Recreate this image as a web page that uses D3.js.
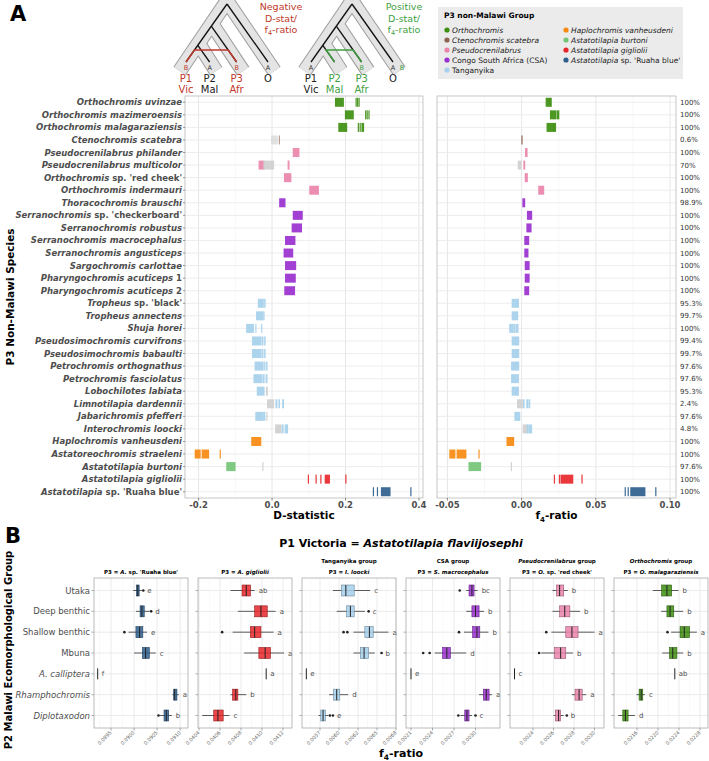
<!DOCTYPE html>
<html>
<head>
<meta charset="utf-8">
<script src="https://cdn.jsdelivr.net/npm/d3@7"></script>
<style>
  body { margin: 0; background: #fff; }
  svg { font-family: "DejaVu Sans", sans-serif; display: block; }
</style>
</head>
<body>
<div id="chart"></div>
<script>
// ---------- panel A data ----------
var groupNames = ["Orthochromis", "Ctenochromis scatebra", "Pseudocrenilabrus", "Congo South Africa (CSA)", "Tanganyika",
                  "Haplochromis vanheusdeni", "Astatotilapia burtoni", "Astatotilapia gigliolii", "Astatotilapia sp. 'Ruaha blue'"];
var groupColors = ["#3e8e10", "#8c6450", "#ea84aa", "#9a30cf", "#a6d0ec", "#f7890f", "#74c476", "#e8262a", "#2e5f8e"];

var species = [
  "Orthochromis uvinzae", "Orthochromis mazimeroensis", "Orthochromis malagaraziensis", "Ctenochromis scatebra",
  "Pseudocrenilabrus philander", "Pseudocrenilabrus multicolor", "Orthochromis sp. 'red cheek'", "Orthochromis indermauri",
  "Thoracochromis brauschi", "Serranochromis sp. 'checkerboard'", "Serranochromis robustus", "Serranochromis macrocephalus",
  "Serranochromis angusticeps", "Sargochromis carlottae", "Pharyngochromis acuticeps 1", "Pharyngochromis acuticeps 2",
  "Tropheus sp. 'black'", "Tropheus annectens", "Shuja horei", "Pseudosimochromis curvifrons", "Pseudosimochromis babaulti",
  "Petrochromis orthognathus", "Petrochromis fasciolatus", "Lobochilotes labiata", "Limnotilapia dardennii",
  "Jabarichromis pfefferi", "Interochromis loocki", "Haplochromis vanheusdeni", "Astatoreochromis straeleni",
  "Astatotilapia burtoni", "Astatotilapia gigliolii", "Astatotilapia sp. 'Ruaha blue'"
];
var speciesGroup = [0,0,0,1, 2,2,2,2, 3,3,3,3,3,3,3,3, 4,4,4,4,4,4,4,4,4,4,4, 5,5,6,7,8];

// runs of replicate values: [low, high, significant(1) / not (0)]
var dRuns = [
  [[0.173,0.194,1],[0.229,0.229,1],[0.233,0.233,1],[0.237,0.237,1]],
  [[0.200,0.221,1],[0.255,0.255,1],[0.259,0.259,1],[0.264,0.264,1]],
  [[0.182,0.203,1],[0.235,0.235,1],[0.240,0.240,1],[0.245,0.249,1]],
  [[-0.001,0.014,0],[0.020,0.020,1]],
  [[0.058,0.073,1]],
  [[-0.035,-0.022,1],[-0.022,0.004,0],[0.044,0.044,1],[0.046,0.046,1]],
  [[0.034,0.051,1]],
  [[0.103,0.126,1]],
  [[0.021,0.035,1]],
  [[0.058,0.082,1]],
  [[0.055,0.080,1]],
  [[0.037,0.062,1]],
  [[0.033,0.056,1]],
  [[0.037,0.064,1]],
  [[0.037,0.063,1]],
  [[0.035,0.061,1]],
  [[-0.037,-0.024,1],[-0.020,-0.019,1]],
  [[-0.042,-0.025,1],[-0.022,-0.022,1]],
  [[-0.069,-0.051,1],[-0.044,-0.044,1],[-0.028,-0.028,1]],
  [[-0.053,-0.030,1],[-0.026,-0.025,1],[-0.020,-0.019,1]],
  [[-0.053,-0.030,1],[-0.026,-0.025,1],[-0.020,-0.019,1]],
  [[-0.046,-0.026,1],[-0.022,-0.021,1],[-0.016,-0.014,1]],
  [[-0.049,-0.028,1],[-0.024,-0.022,1],[-0.016,-0.014,1]],
  [[-0.040,-0.022,1],[-0.015,-0.013,0]],
  [[-0.012,0.004,0],[0.011,0.013,1],[0.019,0.020,1],[0.029,0.031,1]],
  [[-0.044,-0.024,1],[-0.021,-0.020,1],[-0.014,-0.014,0]],
  [[0.010,0.024,0],[0.028,0.030,1],[0.036,0.042,1]],
  [[-0.055,-0.031,1]],
  [[-0.209,-0.196,1],[-0.190,-0.173,1],[-0.141,-0.141,1]],
  [[-0.123,-0.101,1],[-0.025,-0.025,0]],
  [[0.099,0.099,1],[0.120,0.120,1],[0.133,0.133,1],[0.145,0.156,1],[0.201,0.201,1]],
  [[0.276,0.276,1],[0.287,0.287,1],[0.298,0.321,1],[0.378,0.378,1]]
];
var fRuns = [
  [[0.0166,0.0190,1],[0.0195,0.0199,1]],
  [[0.0195,0.0230,1],[0.0240,0.0250,1]],
  [[0.0172,0.0215,1],[0.0220,0.0228,1]],
  [[0.0000,0.0005,1]],
  [[0.0027,0.0036,1]],
  [[-0.0022,-0.0004,0],[0.0016,0.0020,1]],
  [[0.0025,0.0038,1]],
  [[0.0116,0.0148,1]],
  [[0.0009,0.0020,1]],
  [[0.0040,0.0067,1]],
  [[0.0036,0.0063,1]],
  [[0.0022,0.0047,1]],
  [[0.0022,0.0042,1]],
  [[0.0025,0.0050,1]],
  [[0.0025,0.0050,1]],
  [[0.0022,0.0047,1]],
  [[-0.0063,-0.0030,1],[-0.0026,-0.0022,1]],
  [[-0.0063,-0.0027,1]],
  [[-0.0080,-0.0060,1],[-0.0052,-0.0045,1],[-0.0035,-0.0025,1]],
  [[-0.0063,-0.0040,1],[-0.0035,-0.0020,1]],
  [[-0.0063,-0.0040,1],[-0.0035,-0.0020,1]],
  [[-0.0067,-0.0040,1],[-0.0034,-0.0020,1]],
  [[-0.0067,-0.0040,1],[-0.0033,-0.0022,1]],
  [[-0.0063,-0.0035,1],[-0.0030,-0.0022,1]],
  [[-0.0027,0.0004,0],[0.0013,0.0016,1],[0.0035,0.0040,1],[0.0050,0.0054,1]],
  [[-0.0045,-0.0013,1]],
  [[0.0011,0.0036,0],[0.0040,0.0043,1],[0.0050,0.0067,1]],
  [[-0.0098,-0.0054,1]],
  [[-0.0483,-0.0450,1],[-0.0434,-0.0376,1],[-0.0287,-0.0287,1]],
  [[-0.0354,-0.0277,1],[-0.0069,-0.0069,0]],
  [[0.0221,0.0221,1],[0.0255,0.0255,1],[0.0266,0.0344,1],[0.0407,0.0407,1]],
  [[0.0698,0.0698,1],[0.0718,0.0718,1],[0.0736,0.0830,1],[0.0904,0.0904,1]]
];
var pctLabels = ["100%","100%","100%","0.6%","100%","70%","100%","100%","98.9%","100%","100%","100%","100%","100%","100%","100%",
                 "95.3%","99.7%","100%","99.4%","99.7%","97.6%","97.6%","95.3%","2.4%","97.6%","4.8%","100%","100%","97.6%","100%","100%"];
var dTicks = [-0.2, 0, 0.2, 0.4], dTickLabels = ["-0.2", "0.0", "0.2", "0.4"];
var fTicks = [-0.05, 0, 0.05, 0.1], fTickLabels = ["-0.05", "0.00", "0.05", "0.10"];

// ---------- panel B data ----------
var ecoGroups = ["Utaka", "Deep benthic", "Shallow benthic", "Mbuna", "A. calliptera", "Rhamphochromis", "Diplotaxodon"];
var facetTop = ["", "", "Tanganyika", "CSA", "Pseudocrenilabrus", "Orthochromis"];
var facetP3 = ["A. sp. 'Ruaha blue'", "A. gigliolii", "I. loocki", "S. macrocephalus", "O. sp. 'red cheek'", "O. malagaraziensis"];
var facetColor = [8, 7, 4, 3, 2, 0];
var facetXLim = [[0.08913, 0.09117], [0.04039, 0.041286], [0.005513, 0.00675], [0.00203, 0.003342], [0.002176, 0.003093], [0.021162, 0.022952]];
var facetTicks = [
  [0.0895, 0.0900, 0.0905, 0.0910],
  [0.0404, 0.0406, 0.0408, 0.0410, 0.0412],
  [0.00575, 0.00600, 0.00625, 0.00650, 0.00675],
  [0.0021, 0.0024, 0.0027, 0.0030],
  [0.0024, 0.0026, 0.0028, 0.0030],
  [0.0216, 0.0220, 0.0224, 0.0228]
];
var facetTickLabels = [
  ["0.0895", "0.0900", "0.0905", "0.0910"],
  ["0.0404", "0.0406", "0.0408", "0.0410", "0.0412"],
  ["0.0057", "0.0060", "0.0062", "0.0065", "0.0068"],
  ["0.0021", "0.0024", "0.0027", "0.0030"],
  ["0.0024", "0.0026", "0.0028", "0.0030"],
  ["0.0216", "0.0220", "0.0224", "0.0228"]
];
// [whisker low, Q1, median, Q3, whisker high, outliers]
var boxStats = [
  [[0.08998,0.09005,0.09008,0.09011,0.09017,[0.09020]],
   [0.09004,0.09013,0.09017,0.09022,0.09034,[0.09037]],
   [0.08988,0.09004,0.09012,0.09019,0.09028,[0.08979]],
   [0.09000,0.09018,0.09025,0.09033,0.09047,[]],
   [0.08921,0.08921,0.08921,0.08921,0.08921,[]],
   [0.09083,0.09086,0.09088,0.09093,0.09097,[]],
   [0.09056,0.09065,0.09070,0.09075,0.09082,[0.09053]]],
  [[0.04070,0.04081,0.04085,0.04089,0.04093,[]],
   [0.04077,0.04093,0.04099,0.04105,0.04113,[]],
   [0.04072,0.04089,0.04093,0.04099,0.04111,[0.04062]],
   [0.04083,0.04097,0.04103,0.04108,0.04121,[]],
   [0.04104,0.04104,0.04104,0.04104,0.04104,[]],
   [0.04070,0.04072,0.04075,0.04077,0.04085,[]],
   [0.04043,0.04054,0.04058,0.04063,0.04069,[]]],
  [[0.00592,0.00603,0.00609,0.00620,0.00641,[]],
   [0.00597,0.00610,0.00615,0.00620,0.00634,[0.00639]],
   [0.00619,0.00634,0.00640,0.00645,0.00665,[0.00606,0.00611]],
   [0.00619,0.00628,0.00633,0.00639,0.00647,[0.00656]],
   [0.00557,0.00557,0.00557,0.00557,0.00557,[]],
   [0.00587,0.00593,0.00597,0.00601,0.00612,[]],
   [0.00573,0.00576,0.00579,0.00582,0.00586,[0.00588,0.00592]]],
  [[0.00287,0.00291,0.00295,0.00298,0.00303,[0.00278]],
   [0.00287,0.00295,0.00300,0.00305,0.00312,[]],
   [0.00284,0.00296,0.00302,0.00306,0.00318,[0.00277]],
   [0.00243,0.00254,0.00260,0.00265,0.00287,[0.00227,0.00236]],
   [0.00210,0.00210,0.00210,0.00210,0.00210,[]],
   [0.00305,0.00311,0.00315,0.00319,0.00323,[]],
   [0.00279,0.00285,0.00288,0.00291,0.00295,[0.00276,0.00300]]],
  [[0.00259,0.00263,0.00266,0.00270,0.00274,[]],
   [0.00259,0.00266,0.00271,0.00276,0.00286,[]],
   [0.00258,0.00272,0.00278,0.00284,0.00300,[0.00253]],
   [0.00248,0.00261,0.00267,0.00272,0.00279,[0.00246]],
   [0.00222,0.00222,0.00222,0.00222,0.00222,[]],
   [0.00278,0.00281,0.00285,0.00288,0.00292,[]],
   [0.00260,0.00262,0.00265,0.00267,0.00270,[0.00273]]],
  [[0.02190,0.02207,0.02217,0.02226,0.02239,[]],
   [0.02206,0.02217,0.02223,0.02230,0.02248,[]],
   [0.02225,0.02242,0.02250,0.02260,0.02274,[0.02218]],
   [0.02208,0.02222,0.02228,0.02236,0.02248,[]],
   [0.02232,0.02232,0.02232,0.02232,0.02232,[]],
   [0.02159,0.02164,0.02168,0.02171,0.02175,[]],
   [0.02124,0.02133,0.02138,0.02143,0.02156,[]]]
];
var sigLetters = [
  ["e","d","e","c","f","a","b"],
  ["ab","a","a","a","a","b","c"],
  ["c","c","a","b","e","d","e"],
  ["bc","b","b","d","e","a","c"],
  ["b","b","a","b","c","a","b"],
  ["b","b","a","b","ab","c","d"]
];

// ---------- helpers ----------
var svg = d3.select("#chart").append("svg").attr("width", 709).attr("height", 761);
var plainWords = ["Congo South Africa (CSA)", "Tanganyika", "CSA"];

// split a species name into [text, italic] parts
function nameParts(name) {
  if (plainWords.indexOf(name) >= 0) return [[name, false]];
  var i = name.indexOf(" sp. ");
  if (i >= 0) return [[name.slice(0, i), true], [name.slice(i), false]];
  var m = name.match(/^(.*)( \d)$/);
  if (m) return [[m[1], true], [m[2], false]];
  return [[name, true]];
}
function addParts(t, parts) {
  parts.forEach(function (p) {
    t.append("tspan").text(p[0]).style("font-style", p[1] ? "italic" : "normal");
  });
}
// "f4-ratio" with subscript 4
function f4(t, sub, shift) {
  t.append("tspan").text("f");
  t.append("tspan").text("4").attr("font-size", sub).attr("dy", shift);
  t.append("tspan").text("-ratio").attr("dy", -shift);
}

// ---------- panel A ----------
var yA = d3.scalePoint().domain(species).range([96, 498]).padding(0.5);
var xD = d3.scaleLinear().domain([-0.237, 0.411]).range([185, 423]);
var xF = d3.scaleLinear().domain([-0.057, 0.104]).range([437, 676]);

function panelA(xs, ticks, tickLabels, runs, title) {
  var g = svg.append("g");
  var step = ticks[1] - ticks[0];
  var minors = ticks.map(function (t) { return t + step / 2; }).concat([ticks[0] - step / 2])
    .filter(function (v) { return v > xs.domain()[0] && v < xs.domain()[1]; });
  g.selectAll(".mn").data(minors).enter().append("line")
    .attr("x1", xs).attr("x2", xs).attr("y1", 96).attr("y2", 498)
    .attr("stroke", "#f2f2f2").attr("stroke-width", 0.6);
  g.selectAll(".mj").data(ticks).enter().append("line")
    .attr("x1", xs).attr("x2", xs).attr("y1", 96).attr("y2", 498)
    .attr("stroke", "#e3e3e3").attr("stroke-width", 0.9);
  g.selectAll(".hz").data(species).enter().append("line")
    .attr("x1", xs.range()[0]).attr("x2", xs.range()[1])
    .attr("y1", function (d) { return yA(d); }).attr("y2", function (d) { return yA(d); })
    .attr("stroke", "#ebebeb").attr("stroke-width", 0.9);

  var flat = [];
  runs.forEach(function (rs, i) {
    rs.forEach(function (r) { flat.push({ sp: species[i], g: speciesGroup[i], lo: r[0], hi: r[1], sig: r[2] }); });
  });
  g.selectAll(".run").data(flat).enter().append("rect")
    .attr("x", function (d) { return xs(d.lo) - 0.6; })
    .attr("width", function (d) { return Math.max(xs(d.hi) - xs(d.lo), 0) + 1.2; })
    .attr("y", function (d) { return yA(d.sp) - 4.5; })
    .attr("height", 9)
    .attr("fill", function (d) { return d.sig ? groupColors[d.g] : "#cfcfcf"; })
    .attr("opacity", function (d) { return d.g === 1 ? 0.6 : 0.92; });

  g.append("rect").attr("x", xs.range()[0]).attr("y", 96)
    .attr("width", xs.range()[1] - xs.range()[0]).attr("height", 402)
    .attr("fill", "none").attr("stroke", "#b8b8b8").attr("stroke-width", 0.8);

  g.selectAll(".tk").data(ticks).enter().append("line")
    .attr("x1", xs).attr("x2", xs).attr("y1", 498).attr("y2", 500.5)
    .attr("stroke", "#555").attr("stroke-width", 0.7);
  g.selectAll(".tl").data(ticks).enter().append("text")
    .attr("x", xs).attr("y", 508).attr("text-anchor", "middle")
    .attr("font-size", 8.5).attr("font-weight", "bold").attr("fill", "#4d4d4d")
    .text(function (d, i) { return tickLabels[i]; });

  var t = g.append("text").attr("x", (xs.range()[0] + xs.range()[1]) / 2).attr("y", 519)
    .attr("text-anchor", "middle").attr("font-size", 10.5).attr("font-weight", "bold");
  if (title === "f4") f4(t, 7, 2.5); else t.text(title);
  return g;
}
panelA(xD, dTicks, dTickLabels, dRuns, "D-statistic");
panelA(xF, fTicks, fTickLabels, fRuns, "f4");

// species labels
var sl = svg.append("g").selectAll("text").data(species).enter().append("text")
  .attr("x", 182).attr("y", function (d) { return yA(d) + 3; })
  .attr("text-anchor", "end").attr("font-size", 8.5).attr("font-weight", "bold").attr("fill", "#4d4d4d");
sl.each(function (d) { addParts(d3.select(this), nameParts(d)); });
svg.append("g").selectAll("line").data(species).enter().append("line")
  .attr("x1", 183).attr("x2", 185).attr("y1", function (d) { return yA(d); }).attr("y2", function (d) { return yA(d); })
  .attr("stroke", "#555").attr("stroke-width", 0.6);

// percentage labels
svg.append("g").selectAll("text").data(species).enter().append("text")
  .attr("x", 680).attr("y", function (d) { return yA(d) + 2.5; })
  .attr("font-size", 7).attr("fill", "#333")
  .text(function (d, i) { return pctLabels[i]; });

svg.append("text").attr("transform", "translate(14,297) rotate(-90)").attr("text-anchor", "middle")
  .attr("font-size", 10.5).attr("font-weight", "bold").text("P3 Non-Malawi Species");

svg.append("text").attr("x", 10).attr("y", 21).attr("font-size", 21).attr("font-weight", "bold").text("A");

// ---------- tree schematics ----------
function drawTree(ax, mainCol, tipLetters, labCols, migLeft, migRight, extraB) {
  var g = svg.append("g").attr("transform", "translate(" + ax + ",0)");
  var k = 0.707, top = 4, tipY = 62, endY = 71;
  function xl(y) { return -k * (y - top); }
  var nA = 26.2, nB = 45.3;
  var branches = [
    [0, top, xl(tipY), tipY],
    [0, top, k * (tipY - top), tipY],
    [xl(nA), nA, xl(nA) + k * (tipY - nA), tipY],
    [xl(nB), nB, xl(nB) + k * (tipY - nB), tipY]
  ];
  function ext(b) {
    var s = (endY - b[1]) / (b[3] - b[1]);
    return [b[0], b[1] - 3, b[0] + (b[2] - b[0]) * s, endY];
  }
  var tubes = branches.map(ext);
  [["#9d9d9d", 15], ["#e4e4e4", 13]].forEach(function (st) {
    g.selectAll(null).data(tubes).enter().append("line")
      .attr("x1", function (d) { return d[0]; }).attr("y1", function (d) { return d[1]; })
      .attr("x2", function (d) { return d[2]; }).attr("y2", function (d) { return d[3]; })
      .attr("stroke", st[0]).attr("stroke-width", st[1]).attr("stroke-linecap", "butt");
  });
  g.selectAll(null).data(branches).enter().append("line")
    .attr("x1", function (d) { return d[0]; }).attr("y1", function (d) { return d[1]; })
    .attr("x2", function (d) { return d[2]; }).attr("y2", function (d) { return d[3]; })
    .attr("stroke", "#111").attr("stroke-width", 1.3);
  // introgression: coloured tips of the two lineages joined at y = 50
  var mY = 50;
  var bx = [xl(mY), xl(nB) + k * (mY - nB), xl(nA) + k * (mY - nA)];
  var tips = [xl(tipY), xl(nB) + k * (tipY - nB), xl(nA) + k * (tipY - nA), k * (tipY - top)];
  g.append("path").attr("fill", "none").attr("stroke", mainCol).attr("stroke-width", 1.4)
    .attr("d", "M" + tips[migLeft] + "," + tipY + "L" + bx[migLeft] + "," + mY + "L" + bx[migRight] + "," + mY +
               "L" + tips[migRight] + "," + tipY);
  var labs = ["P1", "P2", "P3", "O"], regs = ["Vic", "Mal", "Afr", ""];
  tips.forEach(function (tx, i) {
    g.append("text").attr("x", tx).attr("y", 70).attr("text-anchor", "middle").attr("font-size", 6.5)
      .attr("fill", tipLetters[i][1]).text(tipLetters[i][0]);
    g.append("text").attr("x", tx).attr("y", 82).attr("text-anchor", "middle").attr("font-size", 10)
      .attr("fill", labCols[i]).text(labs[i]);
    g.append("text").attr("x", tx).attr("y", 93).attr("text-anchor", "middle").attr("font-size", 10)
      .attr("fill", labCols[i]).text(regs[i]);
  });
  if (extraB) g.append("text").attr("x", tips[3] + 9).attr("y", 70).attr("text-anchor", "middle")
    .attr("font-size", 6.5).attr("fill", mainCol).text("B");
  return g;
}
var negCol = "#c0392b", posCol = "#3f9f3f";
drawTree(227, negCol, [["B", negCol], ["A", "#333"], ["B", negCol], ["A", "#333"]],
         [negCol, "#222", negCol, "#222"], 0, 2, false);
drawTree(352, posCol, [["A", "#333"], ["", "#333"], ["B", posCol], ["A", "#333"]],
         ["#222", posCol, posCol, "#222"], 1, 2, true);

function note(cx, col, first) {
  var g = svg.append("g").attr("fill", col).attr("font-size", 9.5).attr("text-anchor", "middle");
  g.append("text").attr("x", cx).attr("y", 10).text(first);
  g.append("text").attr("x", cx).attr("y", 21.5).text("D-stat/");
  f4(g.append("text").attr("x", cx).attr("y", 33), 6.5, 2);
}
note(281, negCol, "Negative");
note(404, posCol, "Positive");

// legend
var lg = svg.append("g");
lg.append("rect").attr("x", 438).attr("y", 7).attr("width", 245).attr("height", 72).attr("fill", "#ebebeb");
lg.append("text").attr("x", 444).attr("y", 18).attr("font-size", 7.5).attr("font-weight", "bold").text("P3 non-Malawi Group");
var li = lg.selectAll(".li").data(groupNames).enter().append("g")
  .attr("transform", function (d, i) {
    var col = i < 5 ? 0 : 1, row = i < 5 ? i : i - 5;
    return "translate(" + (447 + col * 119) + "," + (30 + row * 10) + ")";
  });
li.append("circle").attr("r", 2.6).attr("fill", function (d, i) { return groupColors[i]; });
li.append("text").attr("x", 5).attr("y", 2.7).attr("font-size", 7.5).attr("fill", "#222")
  .each(function (d) { addParts(d3.select(this), nameParts(d)); });

// ---------- panel B ----------
svg.append("text").attr("x", 5).attr("y", 543).attr("font-size", 21).attr("font-weight", "bold").text("B");
var bt = svg.append("text").attr("x", 401).attr("y", 547).attr("text-anchor", "middle")
  .attr("font-size", 11).attr("font-weight", "bold");
bt.append("tspan").text("P1 Victoria = ");
bt.append("tspan").text("Astatotilapia flaviijosephi").style("font-style", "italic");

svg.append("text").attr("transform", "translate(12,650) rotate(-90)").attr("text-anchor", "middle")
  .attr("font-size", 10).attr("font-weight", "bold").text("P2 Malawi Ecomorphological Group");

var yB = d3.scalePoint().domain(ecoGroups).range([578, 728]).padding(0.6);
svg.append("g").selectAll("text").data(ecoGroups).enter().append("text")
  .attr("x", 90).attr("y", function (d) { return yB(d) + 3; }).attr("text-anchor", "end")
  .attr("font-size", 8.5).attr("fill", "#4d4d4d")
  .style("font-style", function (d, i) { return i >= 4 ? "italic" : "normal"; })
  .text(function (d) { return d; });

facetP3.forEach(function (p3, fi) {
  var x0 = 94 + fi * 104, x1 = x0 + 94;
  var xs = d3.scaleLinear().domain(facetXLim[fi]).range([x0, x1]);
  var g = svg.append("g");
  var ticks = facetTicks[fi], step = ticks[1] - ticks[0];
  var minors = ticks.map(function (t) { return t + step / 2; }).concat([ticks[0] - step / 2])
    .filter(function (v) { return v > facetXLim[fi][0] && v < facetXLim[fi][1]; });
  g.append("rect").attr("x", x0).attr("y", 578).attr("width", 94).attr("height", 150).attr("fill", "#fff");
  g.selectAll(".mn").data(minors).enter().append("line")
    .attr("x1", xs).attr("x2", xs).attr("y1", 578).attr("y2", 728).attr("stroke", "#f3f3f3").attr("stroke-width", 0.5);
  g.selectAll(".mj").data(ticks).enter().append("line")
    .attr("x1", xs).attr("x2", xs).attr("y1", 578).attr("y2", 728).attr("stroke", "#e6e6e6").attr("stroke-width", 0.8);
  g.selectAll(".hz").data(ecoGroups).enter().append("line")
    .attr("x1", x0).attr("x2", x1).attr("y1", function (d) { return yB(d); }).attr("y2", function (d) { return yB(d); })
    .attr("stroke", "#e6e6e6").attr("stroke-width", 0.8);
  // y ticks
  g.selectAll(".yt").data(ecoGroups).enter().append("line")
    .attr("x1", x0 - 2.5).attr("x2", x0).attr("y1", function (d) { return yB(d); }).attr("y2", function (d) { return yB(d); })
    .attr("stroke", "#777").attr("stroke-width", 0.6);

  var col = groupColors[facetColor[fi]];
  var stats = boxStats[fi].map(function (s, i) { return { eco: ecoGroups[i], s: s, letter: sigLetters[fi][i] }; });
  var bx = g.selectAll(".bx").data(stats).enter().append("g");
  bx.append("line")
    .attr("x1", function (d) { return xs(d.s[0]); }).attr("x2", function (d) { return xs(d.s[4]); })
    .attr("y1", function (d) { return yB(d.eco); }).attr("y2", function (d) { return yB(d.eco); })
    .attr("stroke", "#333").attr("stroke-width", 0.8);
  bx.filter(function (d) { return d.s[3] > d.s[1]; }).append("rect")
    .attr("x", function (d) { return xs(d.s[1]); }).attr("width", function (d) { return xs(d.s[3]) - xs(d.s[1]); })
    .attr("y", function (d) { return yB(d.eco) - 5.5; }).attr("height", 11)
    .attr("fill", col).attr("fill-opacity", 0.85)
    .attr("stroke", d3.color(col).darker(1.2)).attr("stroke-width", 0.6);
  bx.append("line")
    .attr("x1", function (d) { return xs(d.s[2]); }).attr("x2", function (d) { return xs(d.s[2]); })
    .attr("y1", function (d) { return yB(d.eco) - 5.5; }).attr("y2", function (d) { return yB(d.eco) + 5.5; })
    .attr("stroke", "#222").attr("stroke-width", 1);
  bx.each(function (d) {
    var sel = d3.select(this);
    d.s[5].forEach(function (o) {
      sel.append("circle").attr("cx", xs(o)).attr("cy", yB(d.eco)).attr("r", 1.3).attr("fill", "#222");
    });
  });
  bx.append("text")
    .attr("x", function (d) { return xs(d3.max([d.s[4]].concat(d.s[5]))) + 4; })
    .attr("y", function (d) { return yB(d.eco) + 2.5; })
    .attr("font-size", 7).attr("fill", "#4d4d4d").text(function (d) { return d.letter; });

  g.append("rect").attr("x", x0).attr("y", 578).attr("width", 94).attr("height", 150)
    .attr("fill", "none").attr("stroke", "#aaaaaa").attr("stroke-width", 0.8);

  // x ticks
  g.selectAll(".xt").data(ticks).enter().append("line")
    .attr("x1", xs).attr("x2", xs).attr("y1", 728).attr("y2", 730.5).attr("stroke", "#777").attr("stroke-width", 0.6);
  g.selectAll(".xl").data(ticks).enter().append("text")
    .attr("transform", function (d) { return "translate(" + (xs(d) + 1) + ",733) rotate(-45)"; })
    .attr("text-anchor", "end").attr("font-size", 5).attr("fill", "#666")
    .text(function (d, i) { return facetTickLabels[fi][i]; });

  // strip titles
  var cx = (x0 + x1) / 2;
  if (facetTop[fi]) {
    var tt = g.append("text").attr("x", cx).attr("y", 563).attr("text-anchor", "middle")
      .attr("font-size", 5.5).attr("font-weight", "bold");
    addParts(tt, [[facetTop[fi], plainWords.indexOf(facetTop[fi]) < 0], [" group", false]]);
  }
  var t2 = g.append("text").attr("x", cx).attr("y", 574).attr("text-anchor", "middle")
    .attr("font-size", 5.5).attr("font-weight", "bold");
  var sp = p3.indexOf(" sp. ");
  addParts(t2, [["P3 = ", false]].concat(sp >= 0 ? [[p3.slice(0, sp), true], [p3.slice(sp), false]] : [[p3, true]]));
});

f4(svg.append("text").attr("x", 401).attr("y", 757).attr("text-anchor", "middle")
  .attr("font-size", 11).attr("font-weight", "bold"), 7.5, 2.5);
</script>
</body>
</html>
